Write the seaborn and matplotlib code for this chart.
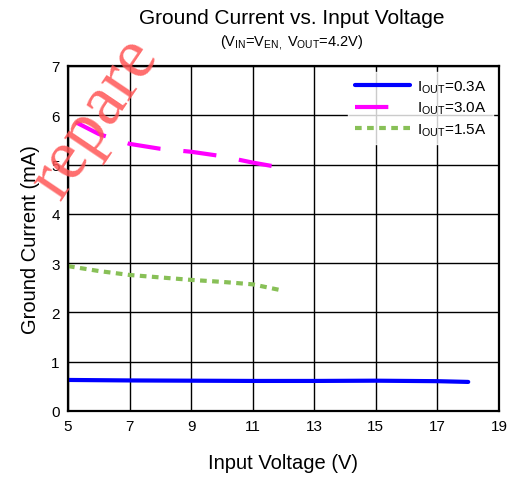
import matplotlib
matplotlib.use("Agg")
import matplotlib.pyplot as plt
import seaborn as sns
import pandas as pd

sns.set_style("white")
plt.rcParams['font.family'] = ['Liberation Sans', 'DejaVu Sans']
plt.rcParams['mathtext.fontset'] = 'custom'
plt.rcParams['mathtext.rm'] = 'Liberation Sans'
plt.rcParams['mathtext.it'] = 'Liberation Sans'
plt.rcParams['text.color'] = 'black'
plt.rcParams['axes.labelcolor'] = 'black'

# Data
v_03 = [5, 7, 9, 11, 13, 15, 17, 18]
i_03 = [0.63, 0.62, 0.615, 0.61, 0.61, 0.615, 0.605, 0.59]
v_30 = [5.25, 6, 7, 8, 9, 10, 11, 12]
i_30 = [5.86, 5.62, 5.42, 5.32, 5.26, 5.17, 5.04, 4.93]
v_15 = [5, 6, 7, 8, 9, 10, 11, 12]
i_15 = [2.94, 2.84, 2.76, 2.71, 2.66, 2.62, 2.57, 2.44]
labels = [r'I$_{\mathrm{OUT}}$=0.3A', r'I$_{\mathrm{OUT}}$=3.0A', r'I$_{\mathrm{OUT}}$=1.5A']
xticks = [5, 7, 9, 11, 13, 15, 17, 19]
yticks = [0, 1, 2, 3, 4, 5, 6, 7]

df = pd.concat([
    pd.DataFrame({'V': v_03, 'I': i_03, 's': labels[0]}),
    pd.DataFrame({'V': v_30, 'I': i_30, 's': labels[1]}),
    pd.DataFrame({'V': v_15, 'I': i_15, 's': labels[2]}),
])

fig = plt.figure(figsize=(5.1, 4.85), dpi=100)
ax = fig.add_axes([68/510, 73/485, 431/510, 345/485])

palette = {labels[0]: '#0000ff', labels[1]: '#ff00ff', labels[2]: '#88c057'}
dashes = {labels[0]: '', labels[1]: (8, 5.5), labels[2]: (1.6, 1.3)}
sns.lineplot(data=df, x='V', y='I', hue='s', style='s', palette=palette,
             dashes=dashes, linewidth=3.0, ax=ax, sort=False)

ax.set_xlim(5, 19)
ax.set_ylim(0, 7)
ax.set_xticks(xticks)
ax.set_yticks(yticks)
ax.grid(True, color='black', linewidth=1.0)
for s in ax.spines.values():
    s.set_color('black')
    s.set_linewidth(1.6)
ax.tick_params(axis='both', labelsize=11, colors='black', length=0, pad=6)
ax.set_xlabel('Input Voltage (V)', fontsize=14.5, labelpad=14)
ax.set_ylabel('Ground Current (mA)', fontsize=14.5, labelpad=8)

leg = ax.legend(loc='upper right', frameon=True, fontsize=11, handlelength=3.6,
                borderaxespad=0.4, labelspacing=0.35, handletextpad=0.5)
leg.get_frame().set_facecolor('white')
leg.get_frame().set_edgecolor('white')
for line in leg.get_lines():
    line.set_linewidth(3.0)

fig.text(292/510, 1 - 19/485, 'Ground Current vs. Input Voltage', ha='center', va='center', fontsize=15)
fig.text(292/510, 1 - 42/485, r'(V$_{\mathrm{IN}}$=V$_{\mathrm{EN,}}$ V$_{\mathrm{OUT}}$=4.2V)',
         ha='center', va='center', fontsize=10.5)

fig.text(95/510, 1 - 118/485, 'repare', rotation=56, ha='center', va='center',
         fontsize=51, color='#ff5555', family='Liberation Serif',
         alpha=0.85, zorder=10)

fig.savefig('out.png', dpi=100)
